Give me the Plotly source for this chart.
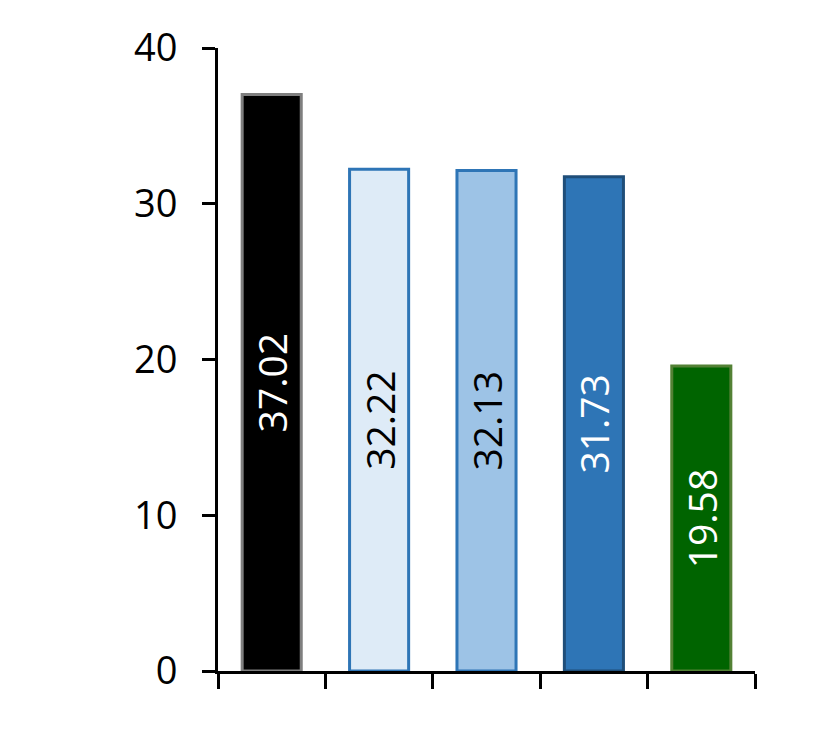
import plotly.graph_objects as go

categories = ["A", "B", "C", "D", "E"]
values = [37.02, 32.22, 32.13, 31.73, 19.58]
labels = ["37.02", "32.22", "32.13", "31.73", "19.58"]
fill_colors = ["#000000", "#DEEBF7", "#9DC3E6", "#2E75B6", "#006400"]
line_colors = ["#7F7F7F", "#2E75B6", "#2E75B6", "#1F4E79", "#538135"]
text_colors = ["#FFFFFF", "#000000", "#000000", "#FFFFFF", "#FFFFFF"]
y_ticks = [0, 10, 20, 30, 40]

fig = go.Figure(
    go.Bar(
        x=categories,
        y=values,
        text=labels,
        texttemplate="%{text}",
        textposition="inside",
        insidetextanchor="middle",
        textangle=-90,
        textfont=dict(family="Open Sans", size=39, color=text_colors),
        marker=dict(color=fill_colors, line=dict(color=line_colors, width=3)),
        constraintext="none",
        cliponaxis=False,
    )
)

fig.update_layout(
    width=828,
    height=736,
    margin=dict(l=210, r=81, t=37, b=73),
    paper_bgcolor="white",
    plot_bgcolor="white",
    bargap=0.45,
    showlegend=False,
    font=dict(family="Open Sans", size=38, color="black"),
)

fig.update_xaxes(
    type="category",
    range=[-0.5, 4.5],
    tickson="boundaries",
    ticks="outside",
    ticklen=15,
    tickwidth=3,
    tickcolor="black",
    showticklabels=False,
    showline=True,
    linewidth=3,
    linecolor="black",
    showgrid=False,
    zeroline=False,
)

fig.update_yaxes(
    range=[0, 40],
    tickvals=y_ticks,
    ticks="outside",
    ticklen=13,
    tickwidth=3,
    tickcolor="black",
    ticklabelstandoff=17,
    showline=True,
    linewidth=3,
    linecolor="black",
    showgrid=False,
    zeroline=False,
    tickfont=dict(family="Open Sans", size=38, color="black"),
)

fig.write_html("out.html")
